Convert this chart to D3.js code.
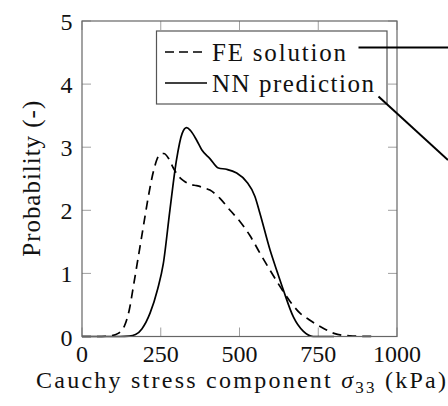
<!DOCTYPE html>
<html>
<head>
<meta charset="utf-8">
<script src="https://cdn.jsdelivr.net/npm/d3@7"></script>
<style>
  html, body { margin: 0; padding: 0; background: #fff; }
  svg { display: block; }
  text { font-family: "Liberation Serif", serif; }
</style>
</head>
<body>
<svg id="chart" width="448" height="406"></svg>
<script>
// ---- data ----
const xTicks = [0, 250, 500, 750, 1000];
const yTicks = [0, 1, 2, 3, 4, 5];
const seriesNames = ["FE solution", "NN prediction"];

const feX = [0, 50, 90, 115, 135, 150, 165, 180, 195, 210, 227, 245, 260, 275, 290, 305, 322, 345, 364, 385, 406, 438, 470, 502, 533, 565, 597, 629, 660, 692, 720, 745, 770, 800, 850, 925];
const feY = [0, 0, 0.01, 0.05, 0.17, 0.42, 0.85, 1.3, 1.75, 2.2, 2.62, 2.87, 2.9, 2.82, 2.67, 2.55, 2.47, 2.41, 2.39, 2.36, 2.32, 2.19, 2.0, 1.82, 1.6, 1.32, 1.05, 0.79, 0.56, 0.37, 0.27, 0.19, 0.12, 0.05, 0.01, 0];

const nnX = [0, 120, 150, 170, 190, 216, 240, 258, 279, 300, 318, 332, 345, 364, 380, 406, 433, 459, 491, 523, 549, 565, 597, 620, 639, 671, 703, 734, 800];
const nnY = [0, 0, 0.005, 0.03, 0.12, 0.37, 0.75, 1.15, 2.0, 2.8, 3.22, 3.31, 3.26, 3.11, 2.96, 2.82, 2.67, 2.65, 2.59, 2.45, 2.22, 1.95, 1.37, 1.02, 0.74, 0.31, 0.08, 0, 0];

// ---- layout ----
const svg = d3.select("#chart");
const L = 82, R = 397, T = 21, B = 336.5;
const x = d3.scaleLinear().domain([0, 1000]).range([L, R]);
const y = d3.scaleLinear().domain([0, 5]).range([B, T]);
const tickLen = 9;
const tickColor = "#a0a0a0";
const fontSize = 25;
const txtColor = "#111";

const tk = svg.append("g").attr("stroke", tickColor).attr("stroke-width", 1);
xTicks.forEach(v => {
  tk.append("line").attr("x1", x(v)).attr("x2", x(v)).attr("y1", B).attr("y2", B - tickLen);
  tk.append("line").attr("x1", x(v)).attr("x2", x(v)).attr("y1", T).attr("y2", T + tickLen);
});
yTicks.forEach(v => {
  tk.append("line").attr("x1", L).attr("x2", L + tickLen).attr("y1", y(v)).attr("y2", y(v));
  tk.append("line").attr("x1", R).attr("x2", R - tickLen).attr("y1", y(v)).attr("y2", y(v));
});

const line = d3.line().x(d => x(d[0])).y(d => y(d[1])).curve(d3.curveMonotoneX);
const feData = feX.map((v, i) => [v, feY[i]]);
const nnData = nnX.map((v, i) => [v, nnY[i]]);
svg.append("path").datum(feData).attr("d", line)
  .attr("fill", "none").attr("stroke", "#000").attr("stroke-width", 1.7)
  .attr("stroke-dasharray", "9,6");
svg.append("path").datum(nnData).attr("d", line)
  .attr("fill", "none").attr("stroke", "#000").attr("stroke-width", 1.7);

svg.append("rect").attr("x", L).attr("y", T).attr("width", R - L).attr("height", B - T)
  .attr("fill", "none").attr("stroke", "#666").attr("stroke-width", 1.2);

xTicks.forEach(v => {
  svg.append("text").attr("x", x(v)).attr("y", B + 25).attr("fill", txtColor)
    .attr("text-anchor", "middle").attr("font-size", 24).text(v);
});
yTicks.forEach(v => {
  svg.append("text").attr("x", L - 9.5).attr("y", y(v) + 9).attr("fill", txtColor)
    .attr("text-anchor", "end").attr("font-size", 24).text(v);
});

const xt = svg.append("text").attr("x", (L + R) / 2 + 1.5).attr("y", 388).attr("fill", txtColor)
  .attr("text-anchor", "middle").attr("font-size", 24)
  .attr("textLength", 410).attr("lengthAdjust", "spacing");
xt.append("tspan").text("Cauchy stress component ");
xt.append("tspan").attr("font-style", "italic").text("σ");
xt.append("tspan").attr("font-size", 17).attr("dy", 5).text("33");
xt.append("tspan").attr("dy", -5).text(" (kPa)");

svg.append("text").attr("fill", txtColor)
  .attr("transform", `translate(39.5, ${(T + B) / 2}) rotate(-90)`)
  .attr("text-anchor", "middle").attr("font-size", fontSize)
  .attr("textLength", 156).attr("lengthAdjust", "spacing")
  .text("Probability (-)");

const lg = svg.append("g");
lg.append("rect").attr("x", 156.5).attr("y", 31).attr("width", 230.5).attr("height", 73)
  .attr("fill", "#fff").attr("stroke", "#555").attr("stroke-width", 1.2);
const rows = [52, 83];
lg.append("line").attr("x1", 165).attr("x2", 204).attr("y1", rows[0]).attr("y2", rows[0])
  .attr("stroke", "#000").attr("stroke-width", 1.7).attr("stroke-dasharray", "9,5");
lg.append("line").attr("x1", 165).attr("x2", 207).attr("y1", rows[1]).attr("y2", rows[1])
  .attr("stroke", "#000").attr("stroke-width", 1.7);
lg.append("text").attr("x", 212).attr("y", rows[0] + 8.5).attr("font-size", fontSize).attr("fill", txtColor)
  .attr("textLength", 134).attr("lengthAdjust", "spacing").text(seriesNames[0]);
lg.append("text").attr("x", 212).attr("y", rows[1] + 8.5).attr("font-size", fontSize).attr("fill", txtColor)
  .attr("textLength", 162).attr("lengthAdjust", "spacing").text(seriesNames[1]);

svg.append("line").attr("x1", 358.5).attr("y1", 47.5).attr("x2", 448).attr("y2", 47.5)
  .attr("stroke", "#000").attr("stroke-width", 2);
svg.append("line").attr("x1", 378.5).attr("y1", 96.5).attr("x2", 448).attr("y2", 160)
  .attr("stroke", "#000").attr("stroke-width", 2);
</script>
</body>
</html>
